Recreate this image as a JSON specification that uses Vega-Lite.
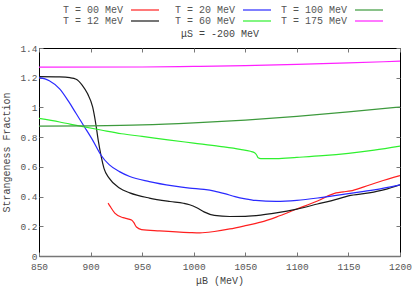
{
  "$schema": "https://vega.github.io/schema/vega-lite/v6.json",
  "autosize": {"type": "none"},
  "padding": {"left": 39, "top": 48, "right": 15, "bottom": 35},
  "width": 361,
  "height": 208,
  "background": "white",
  "config": {
    "view": {"stroke": "black", "strokeWidth": 1},
    "font": "Liberation Mono",
    "axis": {
      "labelFont": "Liberation Mono",
      "titleFont": "Liberation Mono",
      "labelFontSize": 9.5,
      "titleFontSize": 10,
      "labelColor": "#555555",
      "titleColor": "#444444",
      "titleFontWeight": "normal",
      "tickColor": "#777777",
      "tickSize": -4,
      "labelFlush": false,
      "grid": false,
      "domain": false
    }
  },
  "resolve": {"axis": {"x": "independent", "y": "independent"}},
  "data": {
    "values": [
      {"T": "T = 00 MeV", "x": 917, "y": 0.356},
      {"T": "T = 00 MeV", "x": 919, "y": 0.334},
      {"T": "T = 00 MeV", "x": 923.5, "y": 0.289},
      {"T": "T = 00 MeV", "x": 931.5, "y": 0.258},
      {"T": "T = 00 MeV", "x": 936, "y": 0.25},
      {"T": "T = 00 MeV", "x": 939.7, "y": 0.242},
      {"T": "T = 00 MeV", "x": 942, "y": 0.224},
      {"T": "T = 00 MeV", "x": 944.5, "y": 0.195},
      {"T": "T = 00 MeV", "x": 949.4, "y": 0.178},
      {"T": "T = 00 MeV", "x": 967, "y": 0.169},
      {"T": "T = 00 MeV", "x": 996, "y": 0.158},
      {"T": "T = 00 MeV", "x": 1006, "y": 0.156},
      {"T": "T = 00 MeV", "x": 1020, "y": 0.165},
      {"T": "T = 00 MeV", "x": 1035, "y": 0.182},
      {"T": "T = 00 MeV", "x": 1050, "y": 0.204},
      {"T": "T = 00 MeV", "x": 1065, "y": 0.228},
      {"T": "T = 00 MeV", "x": 1080, "y": 0.262},
      {"T": "T = 00 MeV", "x": 1100, "y": 0.316},
      {"T": "T = 00 MeV", "x": 1120, "y": 0.37},
      {"T": "T = 00 MeV", "x": 1138, "y": 0.425},
      {"T": "T = 00 MeV", "x": 1145, "y": 0.432},
      {"T": "T = 00 MeV", "x": 1152, "y": 0.438},
      {"T": "T = 00 MeV", "x": 1165, "y": 0.465},
      {"T": "T = 00 MeV", "x": 1180, "y": 0.5},
      {"T": "T = 00 MeV", "x": 1200, "y": 0.541},

      {"T": "T = 12 MeV", "x": 850, "y": 1.207},
      {"T": "T = 12 MeV", "x": 870, "y": 1.205},
      {"T": "T = 12 MeV", "x": 880, "y": 1.2},
      {"T": "T = 12 MeV", "x": 886, "y": 1.19},
      {"T": "T = 12 MeV", "x": 892, "y": 1.149},
      {"T": "T = 12 MeV", "x": 897, "y": 1.093},
      {"T": "T = 12 MeV", "x": 902, "y": 1.003},
      {"T": "T = 12 MeV", "x": 905, "y": 0.892},
      {"T": "T = 12 MeV", "x": 907.4, "y": 0.78},
      {"T": "T = 12 MeV", "x": 910, "y": 0.68},
      {"T": "T = 12 MeV", "x": 913, "y": 0.59},
      {"T": "T = 12 MeV", "x": 918, "y": 0.524},
      {"T": "T = 12 MeV", "x": 928, "y": 0.457},
      {"T": "T = 12 MeV", "x": 938, "y": 0.425},
      {"T": "T = 12 MeV", "x": 957, "y": 0.39},
      {"T": "T = 12 MeV", "x": 977, "y": 0.367},
      {"T": "T = 12 MeV", "x": 990, "y": 0.355},
      {"T": "T = 12 MeV", "x": 996, "y": 0.345},
      {"T": "T = 12 MeV", "x": 1003, "y": 0.325},
      {"T": "T = 12 MeV", "x": 1010, "y": 0.297},
      {"T": "T = 12 MeV", "x": 1020, "y": 0.273},
      {"T": "T = 12 MeV", "x": 1035, "y": 0.266},
      {"T": "T = 12 MeV", "x": 1050, "y": 0.267},
      {"T": "T = 12 MeV", "x": 1065, "y": 0.275},
      {"T": "T = 12 MeV", "x": 1080, "y": 0.29},
      {"T": "T = 12 MeV", "x": 1100, "y": 0.316},
      {"T": "T = 12 MeV", "x": 1120, "y": 0.35},
      {"T": "T = 12 MeV", "x": 1140, "y": 0.385},
      {"T": "T = 12 MeV", "x": 1150, "y": 0.405},
      {"T": "T = 12 MeV", "x": 1170, "y": 0.425},
      {"T": "T = 12 MeV", "x": 1185, "y": 0.447},
      {"T": "T = 12 MeV", "x": 1200, "y": 0.479},

      {"T": "T = 20 MeV", "x": 850, "y": 1.2},
      {"T": "T = 20 MeV", "x": 860, "y": 1.18},
      {"T": "T = 20 MeV", "x": 870, "y": 1.125},
      {"T": "T = 20 MeV", "x": 879, "y": 1.037},
      {"T": "T = 20 MeV", "x": 886, "y": 0.959},
      {"T": "T = 20 MeV", "x": 894, "y": 0.87},
      {"T": "T = 20 MeV", "x": 902, "y": 0.78},
      {"T": "T = 20 MeV", "x": 910, "y": 0.68},
      {"T": "T = 20 MeV", "x": 918, "y": 0.615},
      {"T": "T = 20 MeV", "x": 928, "y": 0.568},
      {"T": "T = 20 MeV", "x": 938, "y": 0.535},
      {"T": "T = 20 MeV", "x": 957, "y": 0.501},
      {"T": "T = 20 MeV", "x": 980, "y": 0.472},
      {"T": "T = 20 MeV", "x": 996, "y": 0.457},
      {"T": "T = 20 MeV", "x": 1010, "y": 0.448},
      {"T": "T = 20 MeV", "x": 1020, "y": 0.437},
      {"T": "T = 20 MeV", "x": 1030, "y": 0.42},
      {"T": "T = 20 MeV", "x": 1040, "y": 0.4},
      {"T": "T = 20 MeV", "x": 1050, "y": 0.385},
      {"T": "T = 20 MeV", "x": 1060, "y": 0.374},
      {"T": "T = 20 MeV", "x": 1080, "y": 0.367},
      {"T": "T = 20 MeV", "x": 1100, "y": 0.374},
      {"T": "T = 20 MeV", "x": 1125, "y": 0.395},
      {"T": "T = 20 MeV", "x": 1150, "y": 0.42},
      {"T": "T = 20 MeV", "x": 1175, "y": 0.445},
      {"T": "T = 20 MeV", "x": 1200, "y": 0.479},

      {"T": "T = 60 MeV", "x": 850, "y": 0.926},
      {"T": "T = 60 MeV", "x": 870, "y": 0.902},
      {"T": "T = 60 MeV", "x": 890, "y": 0.874},
      {"T": "T = 60 MeV", "x": 910, "y": 0.848},
      {"T": "T = 60 MeV", "x": 930, "y": 0.823},
      {"T": "T = 60 MeV", "x": 950, "y": 0.805},
      {"T": "T = 60 MeV", "x": 975, "y": 0.782},
      {"T": "T = 60 MeV", "x": 1000, "y": 0.76},
      {"T": "T = 60 MeV", "x": 1025, "y": 0.738},
      {"T": "T = 60 MeV", "x": 1045, "y": 0.718},
      {"T": "T = 60 MeV", "x": 1055, "y": 0.705},
      {"T": "T = 60 MeV", "x": 1059, "y": 0.695},
      {"T": "T = 60 MeV", "x": 1061, "y": 0.68},
      {"T": "T = 60 MeV", "x": 1062.5, "y": 0.662},
      {"T": "T = 60 MeV", "x": 1065, "y": 0.656},
      {"T": "T = 60 MeV", "x": 1080, "y": 0.656},
      {"T": "T = 60 MeV", "x": 1100, "y": 0.664},
      {"T": "T = 60 MeV", "x": 1125, "y": 0.675},
      {"T": "T = 60 MeV", "x": 1150, "y": 0.691},
      {"T": "T = 60 MeV", "x": 1175, "y": 0.713},
      {"T": "T = 60 MeV", "x": 1200, "y": 0.74},

      {"T": "T = 100 MeV", "x": 850, "y": 0.874},
      {"T": "T = 100 MeV", "x": 900, "y": 0.876},
      {"T": "T = 100 MeV", "x": 950, "y": 0.882},
      {"T": "T = 100 MeV", "x": 1000, "y": 0.896},
      {"T": "T = 100 MeV", "x": 1050, "y": 0.915},
      {"T": "T = 100 MeV", "x": 1100, "y": 0.94},
      {"T": "T = 100 MeV", "x": 1150, "y": 0.97},
      {"T": "T = 100 MeV", "x": 1200, "y": 1.003},

      {"T": "T = 175 MeV", "x": 850, "y": 1.271},
      {"T": "T = 175 MeV", "x": 950, "y": 1.272},
      {"T": "T = 175 MeV", "x": 1000, "y": 1.276},
      {"T": "T = 175 MeV", "x": 1050, "y": 1.282},
      {"T": "T = 175 MeV", "x": 1100, "y": 1.29},
      {"T": "T = 175 MeV", "x": 1150, "y": 1.3},
      {"T": "T = 175 MeV", "x": 1200, "y": 1.311}
    ]
  },
  "layer": [
    {
      "mark": {"type": "line", "interpolate": "monotone", "strokeWidth": 1.2, "clip": true},
      "encoding": {
        "x": {
          "field": "x", "type": "quantitative",
          "scale": {"domain": [850, 1200], "nice": false, "zero": false},
          "axis": {"orient": "bottom", "values": [850, 900, 950, 1000, 1050, 1100, 1150, 1200], "format": "d", "title": "μB (MeV)", "labelPadding": 9, "titlePadding": 5, "domain": true, "domainColor": "#777777", "domainWidth": 1.5}
        },
        "y": {
          "field": "y", "type": "quantitative",
          "scale": {"domain": [0, 1.4], "nice": false},
          "axis": {"orient": "left", "values": [0, 0.2, 0.4, 0.6, 0.8, 1, 1.2, 1.4], "format": "~g", "title": "Strangeness Fraction", "labelPadding": 6, "titlePadding": 8}
        },
        "color": {
          "field": "T", "type": "nominal",
          "scale": {
            "domain": ["T = 00 MeV", "T = 20 MeV", "T = 100 MeV", "T = 12 MeV", "T = 60 MeV", "T = 175 MeV"],
            "range": ["#ff2020", "#2a2aff", "#3d9a3d", "#1a1a1a", "#2ff02f", "#ff20ff"]
          },
          "legend": {
            "orient": "none",
            "legendX": 16,
            "legendY": -43,
            "columns": 3,
            "direction": "horizontal",
            "title": "μS = -200 MeV",
            "titleOrient": "bottom",
            "titleAnchor": "middle",
            "titleFont": "Liberation Mono",
            "titleFontSize": 10,
            "titleFontWeight": "normal",
            "titleColor": "#444444",
            "titlePadding": 3,
            "labelFont": "Liberation Mono",
            "labelFontSize": 10,
            "labelColor": "#555555",
            "labelAlign": "right",
            "labelOffset": -27,
            "symbolType": "M-5,0H5",
            "symbolSize": 31.36,
            "symbolStrokeWidth": 1.2,
            "symbolOffset": 85,
            "rowPadding": 1,
            "columnPadding": 5,
            "padding": 0
          }
        }
      }
    },
    {
      "mark": {"type": "line", "strokeOpacity": 0},
      "encoding": {
        "x": {"field": "x", "type": "quantitative", "axis": {"orient": "top", "values": [850, 900, 950, 1000, 1050, 1100, 1150, 1200], "labels": false, "title": null}},
        "y": {"field": "y", "type": "quantitative", "axis": {"orient": "right", "values": [0, 0.2, 0.4, 0.6, 0.8, 1, 1.2, 1.4], "labels": false, "title": null}},
        "detail": {"field": "T"}
      }
    }
  ]
}
